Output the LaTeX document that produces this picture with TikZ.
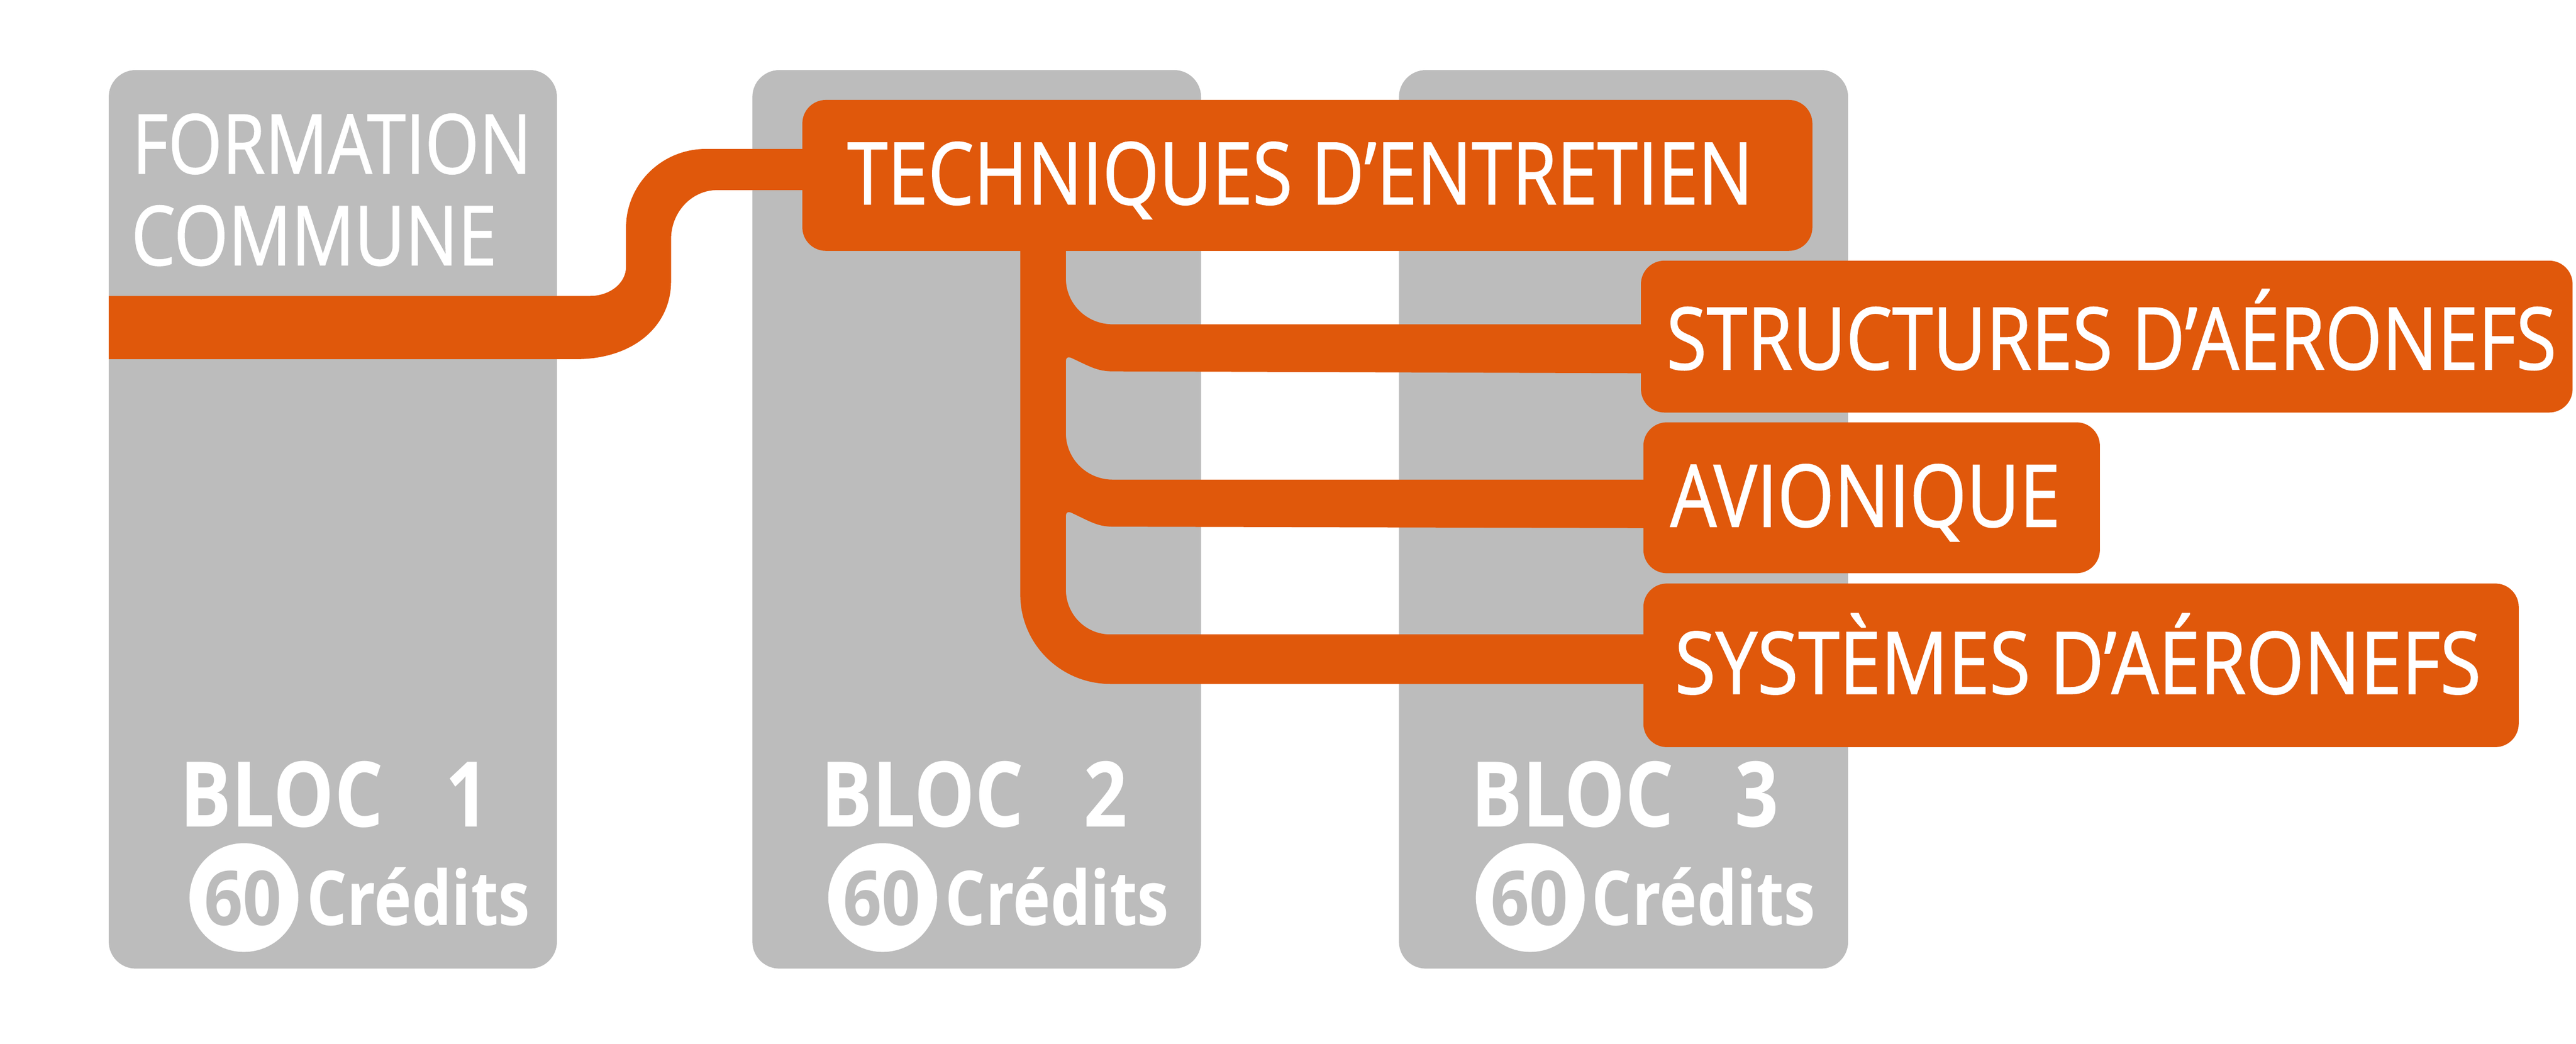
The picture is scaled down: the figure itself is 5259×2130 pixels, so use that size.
\documentclass[tikz,border=0pt]{standalone}
\usepackage{fontspec}
\setmainfont{Open Sans}
\newfontfamily\regb{Open Sans}[FakeBold=1.2]
\usepackage{graphicx}
\definecolor{colgray}{RGB}{188,188,188}
\definecolor{orng}{RGB}{224,88,11}
\newcommand{\fitbox}[3]{\resizebox{#1pt}{\height}{\fontsize{#2pt}{#2pt}\selectfont #3}}
\tikzset{
  colbox/.style={fill=colgray, rounded corners=55pt, inner sep=0pt, outer sep=0pt, anchor=north west},
  obox/.style={fill=orng, rounded corners=48pt, inner sep=0pt, outer sep=0pt, anchor=north west},
  wtxt/.style={text=white, inner sep=0pt, outer sep=0pt, anchor=base west},
  gtxt/.style={text=colgray, inner sep=0pt, outer sep=0pt, anchor=base},
  dot/.style={circle, fill=white, minimum size=222pt, inner sep=0pt, outer sep=0pt},
  tube/.style={fill=orng},
}
\begin{document}
\begin{tikzpicture}[x=1pt,y=-1pt]
\useasboundingbox (0,0) rectangle (5259,2130);
% columns
\node[colbox, minimum width=915pt, minimum height=1834pt] (c1) at (222,143) {};
\node[colbox, minimum width=916pt, minimum height=1834pt] (c2) at (1536,143) {};
\node[colbox, minimum width=917pt, minimum height=1834pt] (c3) at (2856,143) {};
% connector from formation commune to header
\fill[tube] (c1.west |- 0,604) -- (1205,604) .. controls (1245,604) and (1278,578) .. (1278,545)
  -- (1278,465) .. controls (1278,376) and (1351,304) .. (1441,304) -- (1660,304) -- (1660,388)
  -- (1464,388) .. controls (1412,388) and (1370,433) .. (1370,488) -- (1370,574)
  .. controls (1370,668) and (1290,733) .. (1177,733) -- (c1.west |- 0,733) -- cycle;
% trunk and branches
\fill[tube] (2083,490) -- (2083,1214) .. controls (2083,1314) and (2165,1396) .. (2267,1396)
  -- (3390,1396) -- (3390,1295) -- (2267,1295) .. controls (2216,1295) and (2176,1254) .. (2176,1203)
  -- (2176,1053) .. controls (2176,1046) and (2180,1044) .. (2186,1046)
  .. controls (2225,1064) and (2240,1075) .. (2272,1075) -- (3390,1078)
  -- (3390,979) -- (2272,979) .. controls (2218,979) and (2176,936) .. (2176,884)
  -- (2176,737) .. controls (2176,730) and (2180,728) .. (2186,730)
  .. controls (2225,748) and (2240,758) .. (2272,758) -- (3390,762)
  -- (3390,662) -- (2272,662) .. controls (2218,662) and (2176,620) .. (2176,568)
  -- (2176,490) -- cycle;
% orange boxes
\node[obox, minimum width=2062pt, minimum height=308pt] (tech) at (1638,204) {};
\node[obox, minimum width=1902pt, minimum height=310pt] (struc) at (3350,532) {};
\node[obox, minimum width=932pt, minimum height=308pt] (avio) at (3355,862) {};
\node[obox, minimum width=1787pt, minimum height=334pt] (syst) at (3355,1191) {};
% texts
\node[wtxt] (tFC1) at (270,354) {\fitbox{815}{168}{\regb FORMATION}};
\node[wtxt] (tFC2) at (268,541) {\fitbox{746}{168}{\regb COMMUNE}};
\node[wtxt] (tTech) at (1730,417) {\fitbox{1849}{176}{\regb TECHNIQUES D’ENTRETIEN}};
\node[wtxt] (tStruc) at (3402,754) {\fitbox{1817}{176}{\regb STRUCTURES D’AÉRONEFS}};
\node[wtxt] (tAvio) at (3410,1075) {\fitbox{796}{176}{\regb AVIONIQUE}};
\node[wtxt] (tSyst) at (3419,1416) {\fitbox{1646}{176}{\regb SYSTÈMES D’AÉRONEFS}};
% bloc labels
\node[wtxt] (b1) at (368,1688) {\bfseries\fontsize{185pt}{185pt}\selectfont\makebox[630pt][s]{\scalebox{0.845}[1]{BLOC}\hfill\scalebox{0.845}[1]{1}}};
\node[wtxt] (b2) at (1676,1688) {\bfseries\fontsize{185pt}{185pt}\selectfont\makebox[626pt][s]{\scalebox{0.845}[1]{BLOC}\hfill\scalebox{0.845}[1]{2}}};
\node[wtxt] (b3) at (3003,1688) {\bfseries\fontsize{185pt}{185pt}\selectfont\makebox[628pt][s]{\scalebox{0.845}[1]{BLOC}\hfill\scalebox{0.845}[1]{3}}};
% credit circles
\node[dot] (k1) at (498,1832) {};
\node[dot] (k2) at (1802,1832) {};
\node[dot] (k3) at (3124,1832) {};
\node[gtxt] (n1) at (496,1888) {\fitbox{158}{154}{\bfseries 60}};
\node[gtxt] (n2) at (1800,1888) {\fitbox{158}{154}{\bfseries 60}};
\node[gtxt] (n3) at (3122,1888) {\fitbox{158}{154}{\bfseries 60}};
\node[wtxt] (cr1) at (626,1888) {\fitbox{456}{154}{\bfseries Crédits}};
\node[wtxt] (cr2) at (1930,1888) {\fitbox{456}{154}{\bfseries Crédits}};
\node[wtxt] (cr3) at (3250,1888) {\fitbox{456}{154}{\bfseries Crédits}};
\end{tikzpicture}
\end{document}
